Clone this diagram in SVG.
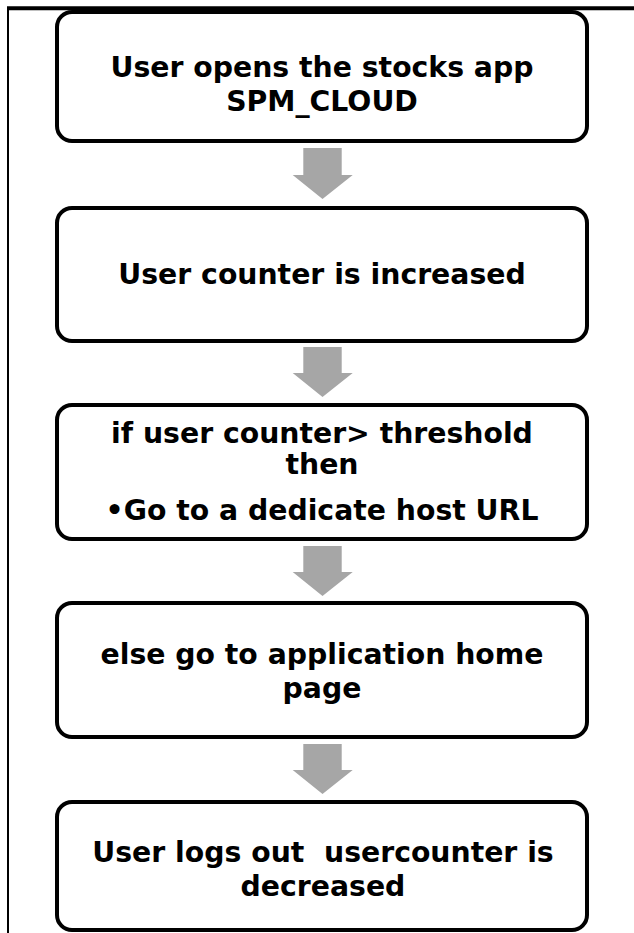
<svg xmlns="http://www.w3.org/2000/svg" width="634" height="933" viewBox="0 0 634 933">
<style>
.box{fill:#ffffff;stroke:#000000;stroke-width:4}
.t{font-family:"DejaVu Sans","Verdana",sans-serif;font-weight:bold;font-size:28.3px;fill:#000000;text-anchor:middle}
.arr{fill:#a6a6a6}
.frame{stroke:#000000;fill:none}
</style>
<rect width="634" height="933" fill="#ffffff"/>
<g id="frame">
<line class="frame" x1="7" y1="8.3" x2="634" y2="8.3" stroke-width="4"/>
<line class="frame" x1="8" y1="8" x2="8" y2="933" stroke-width="2"/>
</g>
<g id="connectors">
<polygon class="arr" points="303.3,148 341.7,148 341.7,175 352.7,175 322.5,199 292.7,175 303.3,175"/>
<polygon class="arr" points="303.3,347 341.7,347 341.7,373 352.7,373 322.5,397 292.7,373 303.3,373"/>
<polygon class="arr" points="303.3,546 341.7,546 341.7,572 352.7,572 322.5,596 292.7,572 303.3,572"/>
<polygon class="arr" points="303.3,744 341.7,744 341.7,770 352.7,770 322.5,794 292.7,770 303.3,770"/>
</g>
<g id="node1">
<rect class="box" x="57" y="12" width="530" height="129" rx="15"/>
<text class="t" x="322" y="76.5">User opens the stocks app</text>
<text class="t" x="322" y="111">SPM_CLOUD</text>
</g>
<g id="node2">
<rect class="box" x="57" y="208" width="530" height="133" rx="15"/>
<text class="t" x="322" y="283.5">User counter is increased</text>
</g>
<g id="node3">
<rect class="box" x="57" y="405" width="530" height="134" rx="15"/>
<text class="t" x="322" y="442.5">if user counter&gt; threshold</text>
<text class="t" x="322" y="473.5">then</text>
<text class="t" x="322" y="520">•Go to a dedicate host URL</text>
</g>
<g id="node4">
<rect class="box" x="57" y="603" width="530" height="134" rx="15"/>
<text class="t" x="322" y="663.5">else go to application home</text>
<text class="t" x="322" y="697.5">page</text>
</g>
<g id="node5">
<rect class="box" x="57" y="802" width="530" height="128" rx="15"/>
<text class="t" x="323" y="861.5" xml:space="preserve">User logs out  usercounter is</text>
<text class="t" x="323" y="896">decreased</text>
</g>
</svg>
